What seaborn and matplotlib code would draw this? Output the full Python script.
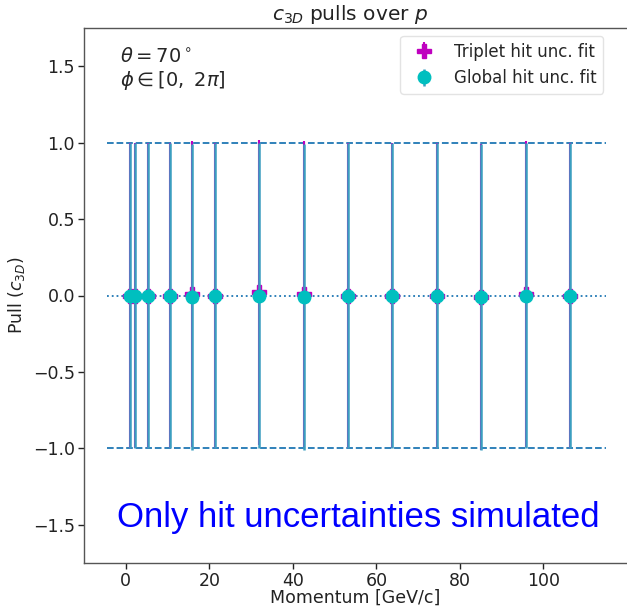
import numpy as np
import pandas as pd
import matplotlib
matplotlib.use("Agg")
import matplotlib.pyplot as plt
import seaborn as sns

# Data
momentum = [1.06, 2.13, 5.32, 10.64, 15.96, 21.28, 31.93, 42.57, 53.21, 63.85, 74.49, 85.13, 95.78, 106.42]
triplet_pull = [0.0, 0.0, 0.0, 0.0, 0.01, 0.0, 0.02, 0.01, 0.0, 0.0, 0.0, -0.01, 0.01, 0.0]
triplet_err = [1.0] * 14
global_pull = [0.0, 0.0, 0.0, 0.0, -0.01, 0.0, 0.0, -0.01, 0.0, 0.0, 0.0, -0.01, 0.0, 0.0]
global_err = [1.0] * 14

sns.set_theme(style="white")
plt.rcParams['font.family'] = ['DejaVu Sans']

fig = plt.figure(figsize=(6.27, 6.07), dpi=100)
ax = fig.add_axes([84/627, 44/607, 543/627, 535/607])

ax.errorbar(momentum, triplet_pull, yerr=triplet_err, fmt='P', color='#bf00bf', ecolor='#bf00bf',
            markersize=9.5, elinewidth=1.5, label='Triplet hit unc. fit', zorder=3)
ax.errorbar(momentum, global_pull, yerr=global_err, fmt='o', color='#00bfbf', ecolor='#3a9fc0',
            markersize=9, elinewidth=1.8, label='Global hit unc. fit', zorder=4)

ax.hlines([1.0, -1.0], -4.5, 115, colors='#1f77b4', linestyles='--', lw=1.3, zorder=2)
ax.hlines([0.0], -4.5, 115, colors='#1f77b4', linestyles=':', lw=1.3, zorder=2)

ax.set_xlim(-10, 120)
ax.set_ylim(-1.75, 1.75)
ax.set_xticks([0, 20, 40, 60, 80, 100])
ax.set_yticks([-1.5, -1.0, -0.5, 0.0, 0.5, 1.0, 1.5])
ax.tick_params(axis='both', labelsize=12.5, length=4, width=1, colors='#222222', left=True, bottom=True, pad=2.5)
for s in ax.spines.values():
    s.set_color('#555555')
    s.set_linewidth(1)
ax.spines['right'].set_visible(False)

ax.set_xlabel('Momentum [GeV/c]', fontsize=12.5, color='#222222', labelpad=-1)
ax.set_ylabel('Pull ($c_{3D}$)', fontsize=12.5, color='#222222')
ax.set_title('$c_{3D}$ pulls over $p$', fontsize=14.5, color='#222222', x=(350-84)/543, pad=6)

ax.text((120-84)/543, 0.965, '$\\theta = 70^\\circ$\n$\\phi \\in [0,\\ 2\\pi]$', transform=ax.transAxes,
        fontsize=14, va='top', ha='left', linespacing=1.2)

ax.text((358-84)/543, (563-518)/535, 'Only hit uncertainties simulated', transform=ax.transAxes,
        fontsize=25, color='blue', ha='center', va='center', family=['Liberation Sans'])

leg = ax.legend(loc='upper right', bbox_to_anchor=((603-84)/543, (563-36)/535), borderaxespad=0,
                fontsize=12, frameon=True)
leg.get_frame().set_edgecolor('#dddddd')

fig.savefig('out.png', dpi=100)
